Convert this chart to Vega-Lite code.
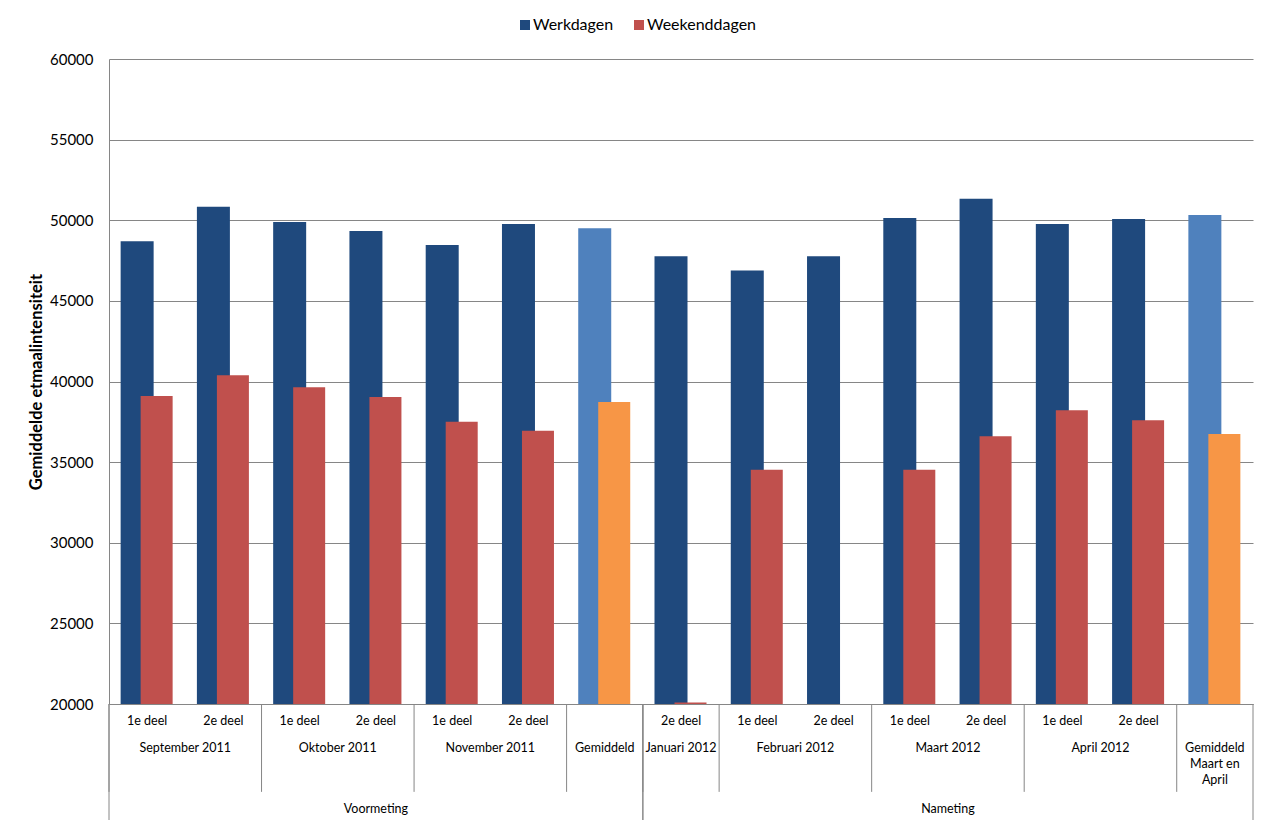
{
  "$schema": "https://vega.github.io/schema/vega-lite/v6.json",
  "background": "white",
  "padding": {"left": 28, "top": 17, "right": 15, "bottom": 5},
  "bounds": "flush",
  "datasets": {
    "metingen": [
      {"fase": "Voormeting", "periode": "September 2011", "deel": "1e deel", "cat": "September 2011 1e deel", "serie": "Werkdagen", "waarde": 48700},
      {"fase": "Voormeting", "periode": "September 2011", "deel": "1e deel", "cat": "September 2011 1e deel", "serie": "Weekenddagen", "waarde": 39100},
      {"fase": "Voormeting", "periode": "September 2011", "deel": "2e deel", "cat": "September 2011 2e deel", "serie": "Werkdagen", "waarde": 50830},
      {"fase": "Voormeting", "periode": "September 2011", "deel": "2e deel", "cat": "September 2011 2e deel", "serie": "Weekenddagen", "waarde": 40390},
      {"fase": "Voormeting", "periode": "Oktober 2011", "deel": "1e deel", "cat": "Oktober 2011 1e deel", "serie": "Werkdagen", "waarde": 49890},
      {"fase": "Voormeting", "periode": "Oktober 2011", "deel": "1e deel", "cat": "Oktober 2011 1e deel", "serie": "Weekenddagen", "waarde": 39650},
      {"fase": "Voormeting", "periode": "Oktober 2011", "deel": "2e deel", "cat": "Oktober 2011 2e deel", "serie": "Werkdagen", "waarde": 49330},
      {"fase": "Voormeting", "periode": "Oktober 2011", "deel": "2e deel", "cat": "Oktober 2011 2e deel", "serie": "Weekenddagen", "waarde": 39040},
      {"fase": "Voormeting", "periode": "November 2011", "deel": "1e deel", "cat": "November 2011 1e deel", "serie": "Werkdagen", "waarde": 48460},
      {"fase": "Voormeting", "periode": "November 2011", "deel": "1e deel", "cat": "November 2011 1e deel", "serie": "Weekenddagen", "waarde": 37500},
      {"fase": "Voormeting", "periode": "November 2011", "deel": "2e deel", "cat": "November 2011 2e deel", "serie": "Werkdagen", "waarde": 49770},
      {"fase": "Voormeting", "periode": "November 2011", "deel": "2e deel", "cat": "November 2011 2e deel", "serie": "Weekenddagen", "waarde": 36940},
      {"fase": "Voormeting", "periode": "Gemiddeld", "deel": "", "cat": "Gemiddeld", "serie": "Werkdagen", "waarde": 49510},
      {"fase": "Voormeting", "periode": "Gemiddeld", "deel": "", "cat": "Gemiddeld", "serie": "Weekenddagen", "waarde": 38730},
      {"fase": "Nameting", "periode": "Januari 2012", "deel": "2e deel", "cat": "Januari 2012 2e deel", "serie": "Werkdagen", "waarde": 47770},
      {"fase": "Nameting", "periode": "Januari 2012", "deel": "2e deel", "cat": "Januari 2012 2e deel", "serie": "Weekenddagen", "waarde": 20100},
      {"fase": "Nameting", "periode": "Februari 2012", "deel": "1e deel", "cat": "Februari 2012 1e deel", "serie": "Werkdagen", "waarde": 46890},
      {"fase": "Nameting", "periode": "Februari 2012", "deel": "1e deel", "cat": "Februari 2012 1e deel", "serie": "Weekenddagen", "waarde": 34530},
      {"fase": "Nameting", "periode": "Februari 2012", "deel": "2e deel", "cat": "Februari 2012 2e deel", "serie": "Werkdagen", "waarde": 47770},
      {"fase": "Nameting", "periode": "Maart 2012", "deel": "1e deel", "cat": "Maart 2012 1e deel", "serie": "Werkdagen", "waarde": 50140},
      {"fase": "Nameting", "periode": "Maart 2012", "deel": "1e deel", "cat": "Maart 2012 1e deel", "serie": "Weekenddagen", "waarde": 34530},
      {"fase": "Nameting", "periode": "Maart 2012", "deel": "2e deel", "cat": "Maart 2012 2e deel", "serie": "Werkdagen", "waarde": 51330},
      {"fase": "Nameting", "periode": "Maart 2012", "deel": "2e deel", "cat": "Maart 2012 2e deel", "serie": "Weekenddagen", "waarde": 36610},
      {"fase": "Nameting", "periode": "April 2012", "deel": "1e deel", "cat": "April 2012 1e deel", "serie": "Werkdagen", "waarde": 49770},
      {"fase": "Nameting", "periode": "April 2012", "deel": "1e deel", "cat": "April 2012 1e deel", "serie": "Weekenddagen", "waarde": 38220},
      {"fase": "Nameting", "periode": "April 2012", "deel": "2e deel", "cat": "April 2012 2e deel", "serie": "Werkdagen", "waarde": 50080},
      {"fase": "Nameting", "periode": "April 2012", "deel": "2e deel", "cat": "April 2012 2e deel", "serie": "Weekenddagen", "waarde": 37600},
      {"fase": "Nameting", "periode": "Gemiddeld\nMaart en\nApril", "deel": "", "cat": "Gemiddeld Maart en April", "serie": "Werkdagen", "waarde": 50330},
      {"fase": "Nameting", "periode": "Gemiddeld\nMaart en\nApril", "deel": "", "cat": "Gemiddeld Maart en April", "serie": "Weekenddagen", "waarde": 36740}
    ]
  },
  "data": {"name": "metingen"},
  "spacing": 0,
  "resolve": {"scale": {"x": "shared"}},
  "vconcat": [
    {
      "width": 1144,
      "height": 645,
      "layer": [
        {
          "transform": [{"filter": "datum.serie === 'Werkdagen'"}],
          "mark": {"type": "bar", "width": 33, "xOffset": -10},
          "encoding": {
            "x": {"field": "cat", "type": "nominal", "sort": null,
                  "scale": {"paddingInner": 0, "paddingOuter": 0},
                  "axis": {"labels": false, "ticks": false, "title": null, "grid": false, "domainColor": "#868686", "domainWidth": 1, "zindex": 1}},
            "y": {"field": "waarde", "type": "quantitative",
                  "scale": {"domain": [20000, 60000], "zero": false, "nice": false},
                  "title": "Gemiddelde etmaalintensiteit",
                  "axis": {"values": [20000, 25000, 30000, 35000, 40000, 45000, 50000, 55000, 60000], "format": "d",
                           "ticks": false, "labelPadding": 16, "labelFontSize": 15, "labelColor": "#000000",
                           "domainColor": "#868686", "gridColor": "#868686", "gridWidth": 1,
                           "titleFontSize": 16.5, "titleFontWeight": "bold", "titleColor": "#000000", "titlePadding": 5}},
            "y2": {"datum": 20000},
            "color": {"field": "serie", "type": "nominal",
                      "condition": {"test": "indexof(datum.periode, 'Gemiddeld') === 0", "value": "#4F81BD"},
                      "scale": {"domain": ["Werkdagen", "Weekenddagen"], "range": ["#1F497D", "#C0504D"]},
                      "legend": {"orient": "none", "legendX": 408, "legendY": -42, "direction": "horizontal", "title": null,
                                 "symbolType": "square", "symbolSize": 100, "symbolStrokeWidth": 0,
                                 "labelFontSize": 16, "labelColor": "#000000", "labelOffset": 0, "columnPadding": 17, "padding": 0}}
          }
        },
        {
          "transform": [{"filter": "datum.serie === 'Weekenddagen'"}],
          "mark": {"type": "bar", "width": 32, "xOffset": 9.5},
          "encoding": {
            "x": {"field": "cat", "type": "nominal", "sort": null},
            "y": {"field": "waarde", "type": "quantitative"},
            "y2": {"datum": 20000},
            "color": {"field": "serie", "type": "nominal",
                      "condition": {"test": "indexof(datum.periode, 'Gemiddeld') === 0", "value": "#F79646"}}
          }
        }
      ]
    },
    {
      "width": 1144,
      "height": 116,
      "transform": [
        {"filter": "datum.serie === 'Werkdagen'"},
        {"window": [{"op": "row_number", "as": "nrPeriode"}], "groupby": ["periode"]},
        {"joinaggregate": [{"op": "count", "as": "nPeriode"}], "groupby": ["periode"]},
        {"window": [{"op": "row_number", "as": "nrFase"}], "groupby": ["fase"]},
        {"joinaggregate": [{"op": "count", "as": "nFase"}], "groupby": ["fase"]}
      ],
      "layer": [
        {
          "transform": [{"filter": "datum.deel !== ''"}],
          "mark": {"type": "text", "baseline": "middle", "fontSize": 12.5, "color": "#000000"},
          "encoding": {
            "x": {"field": "cat", "type": "nominal", "sort": null, "axis": null},
            "y": {"datum": 0.58, "type": "quantitative", "scale": {"domain": [0, 4], "reverse": true}, "axis": null},
            "text": {"field": "deel"}
          }
        },
        {
          "transform": [{"filter": "datum.nPeriode % 2 === 1 && datum.nrPeriode === (datum.nPeriode + 1) / 2"}],
          "mark": {"type": "text", "baseline": "top", "fontSize": 12.5, "color": "#000000", "lineBreak": "\n", "lineHeight": 16},
          "encoding": {
            "x": {"field": "cat", "type": "nominal", "sort": null, "bandPosition": 0.5},
            "y": {"datum": 1.31, "type": "quantitative"},
            "text": {"field": "periode"}
          }
        },
        {
          "transform": [{"filter": "datum.nPeriode % 2 === 0 && datum.nrPeriode === datum.nPeriode / 2 + 1"}],
          "mark": {"type": "text", "baseline": "top", "fontSize": 12.5, "color": "#000000", "lineBreak": "\n", "lineHeight": 16},
          "encoding": {
            "x": {"field": "cat", "type": "nominal", "sort": null, "bandPosition": 0},
            "y": {"datum": 1.31, "type": "quantitative"},
            "text": {"field": "periode"}
          }
        },
        {
          "transform": [{"filter": "datum.nFase % 2 === 1 && datum.nrFase === (datum.nFase + 1) / 2"}],
          "mark": {"type": "text", "baseline": "middle", "fontSize": 12.5, "color": "#000000"},
          "encoding": {
            "x": {"field": "cat", "type": "nominal", "sort": null, "bandPosition": 0.5},
            "y": {"datum": 3.62, "type": "quantitative"},
            "text": {"field": "fase"}
          }
        },
        {
          "transform": [{"filter": "datum.nFase % 2 === 0 && datum.nrFase === datum.nFase / 2 + 1"}],
          "mark": {"type": "text", "baseline": "middle", "fontSize": 12.5, "color": "#000000"},
          "encoding": {
            "x": {"field": "cat", "type": "nominal", "sort": null, "bandPosition": 0},
            "y": {"datum": 3.62, "type": "quantitative"},
            "text": {"field": "fase"}
          }
        },
        {
          "transform": [{"filter": "datum.nrPeriode === 1"}],
          "mark": {"type": "rule", "color": "#868686", "strokeWidth": 1},
          "encoding": {
            "x": {"field": "cat", "type": "nominal", "sort": null, "bandPosition": 0},
            "y": {"datum": 0, "type": "quantitative"},
            "y2": {"datum": 3.03}
          }
        },
        {
          "transform": [{"filter": "datum.nrFase === 1"}],
          "mark": {"type": "rule", "color": "#868686", "strokeWidth": 1},
          "encoding": {
            "x": {"field": "cat", "type": "nominal", "sort": null, "bandPosition": 0},
            "y": {"datum": 0, "type": "quantitative"},
            "y2": {"datum": 4}
          }
        },
        {
          "transform": [{"filter": "datum.nrFase === datum.nFase"}],
          "mark": {"type": "rule", "color": "#868686", "strokeWidth": 1},
          "encoding": {
            "x": {"field": "cat", "type": "nominal", "sort": null, "bandPosition": 1},
            "y": {"datum": 0, "type": "quantitative"},
            "y2": {"datum": 4}
          }
        }
      ]
    }
  ],
  "config": {
    "font": "Lato",
    "view": {"stroke": null},
    "axis": {"labelFont": "Lato", "titleFont": "Lato"},
    "legend": {"labelFont": "Lato"},
    "text": {"font": "Lato"}
  }
}
